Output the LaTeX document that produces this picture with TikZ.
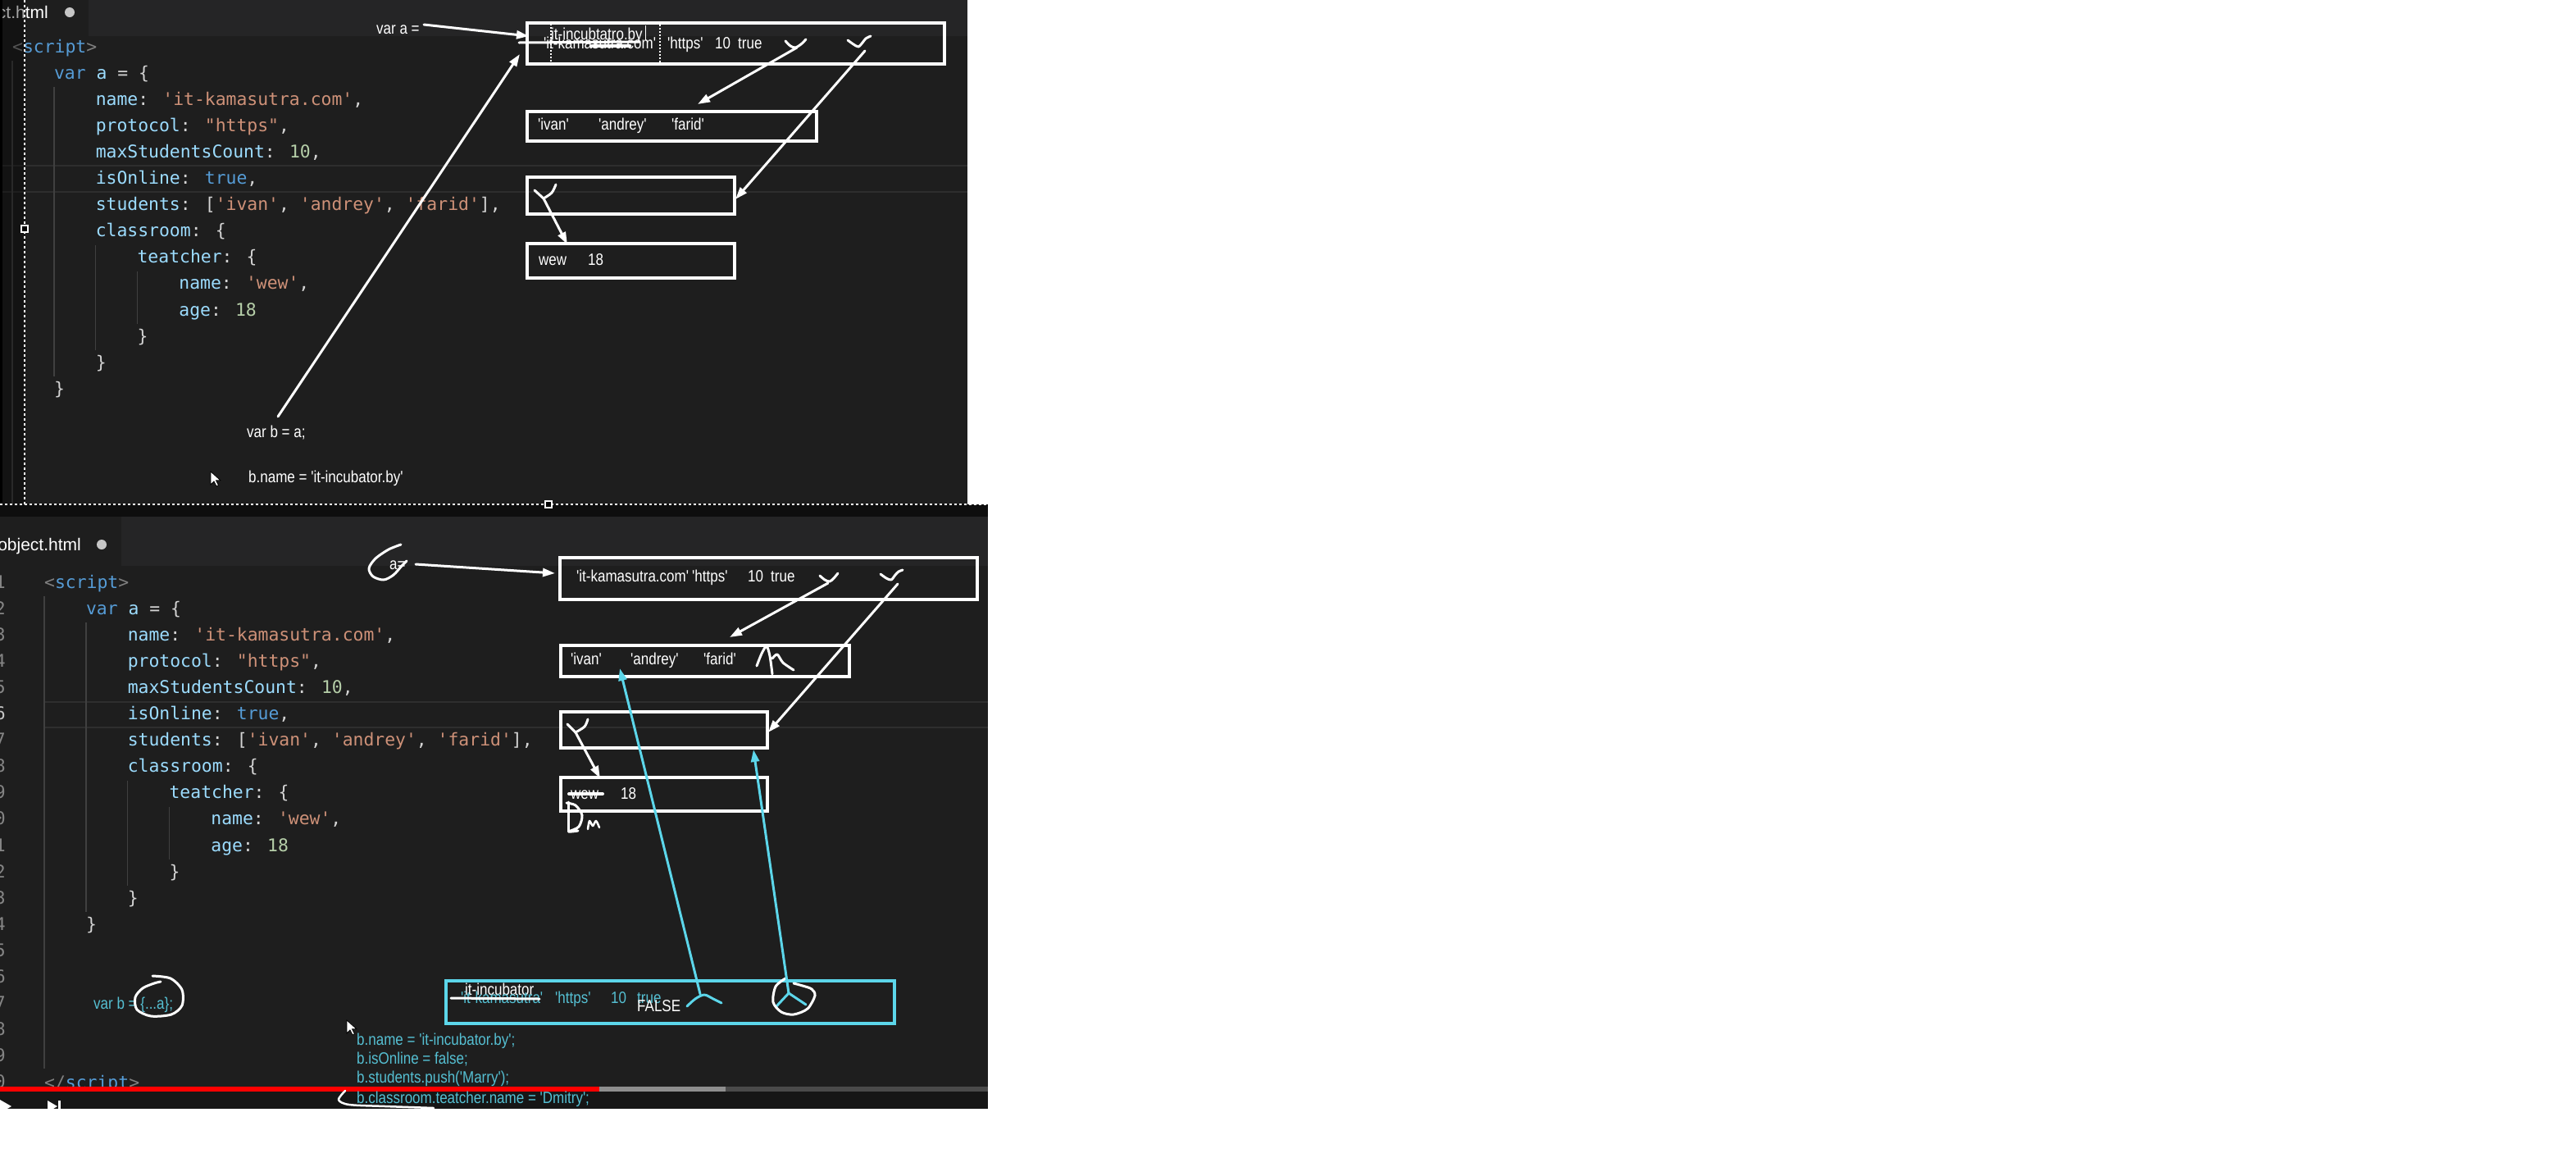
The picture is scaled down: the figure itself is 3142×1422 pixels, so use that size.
\documentclass[tikz,border=0pt]{standalone}
\usepackage{fontspec}
\usetikzlibrary{arrows.meta}

\newfontfamily\codefont{DejaVu Sans Mono}
\newfontfamily\handfont{Liberation Sans}[FakeStretch=0.85]
\newfontfamily\uifont{Liberation Sans}

\definecolor{edbg}{HTML}{1E1E1E}
\definecolor{tabbar}{HTML}{252526}
\definecolor{darkband}{HTML}{0E0E0E}
\definecolor{ctrlbg}{HTML}{161616}
\definecolor{kwblue}{HTML}{569CD6}
\definecolor{propblue}{HTML}{9CDCFE}
\definecolor{strorange}{HTML}{CE9178}
\definecolor{numgreen}{HTML}{B5CEA8}
\definecolor{punct}{HTML}{D4D4D4}
\definecolor{taggray}{HTML}{808080}
\definecolor{guidegray}{HTML}{404040}
\definecolor{curline}{HTML}{2E2E2E}
\definecolor{lnum}{HTML}{858585}
\definecolor{lnumact}{HTML}{C6C6C6}
\definecolor{cyanpen}{HTML}{5CD6EA}
\definecolor{cyantext}{HTML}{55BFD2}
\definecolor{ytred}{HTML}{FF0000}
\definecolor{buffered}{HTML}{8E8E8E}
\definecolor{track}{HTML}{4A4A4A}

\newcommand\ckw[1]{\textcolor{kwblue}{#1}}
\newcommand\cpr[1]{\textcolor{propblue}{#1}}
\newcommand\cst[1]{\textcolor{strorange}{#1}}
\newcommand\cnm[1]{\textcolor{numgreen}{#1}}
\newcommand\ctg[1]{\textcolor{taggray}{#1}}

% the object literal as the editor shows it, origin at the first line
\newcommand\codelines{%
  \foreach \lvl/\txt [count=\k] in {%
      0/{\ctg{<}\ckw{script}\ctg{>}},
      1/{\ckw{var} \cpr{a} = \{},
      2/{\cpr{name}: \cst{'it-kamasutra.com'},},
      2/{\cpr{protocol}: \cst{"https"},},
      2/{\cpr{maxStudentsCount}: \cnm{10},},
      2/{\cpr{isOnline}: \ckw{true},},
      2/{\cpr{students}: [\cst{'ivan'}, \cst{'andrey'}, \cst{'farid'}],},
      2/{\cpr{classroom}: \{},
      3/{\cpr{teatcher}: \{},
      4/{\cpr{name}: \cst{'wew'},},
      4/{\cpr{age}: \cnm{18}},
      3/{\}},
      2/{\}},
      1/{\}}%
    }{\node[code] (line\k) at ({50.8*\lvl},{32.1*(\k-1)+6}) {\txt};}%
  % indent guides
  \draw[guide] (50.8,48) -- (50.8,401);
  \draw[guide] (101.6,241) -- (101.6,369);
  \draw[guide] (152.4,273) -- (152.4,337);
}

% mouse pointer
\newcommand\mousept[1]{%
  \filldraw[fill=white, draw=black, line width=0.8pt]
    #1 -- ++(0,16) -- ++(4,-4) -- ++(3,6) -- ++(2.5,-1.2) -- ++(-3,-6) -- ++(5.5,0) -- cycle;}

\begin{document}
\begin{tikzpicture}[x=1pt, y=-1pt,
  code/.style={text=punct, font=\codefont\fontsize{21.4}{25}\selectfont, inner sep=0pt, anchor=base west},
  hand/.style={text=white, font=\handfont\fontsize{20}{24}\selectfont, inner sep=0pt, anchor=base west},
  tabtext/.style={text=white, font=\uifont\fontsize{21}{25}\selectfont, inner sep=0pt, anchor=base east},
  guide/.style={guidegray, line width=1.5pt},
  pen/.style={white, line width=3pt, line cap=round, line join=round},
  cyanline/.style={cyanpen, line width=3pt, line cap=round, line join=round},
  membox/.style={draw=white, line width=3.5pt, inner sep=0pt, anchor=north west},
  selection/.style={white, line width=1.5pt, dash pattern=on 3pt off 3pt},
  >={Triangle[length=15pt,width=10pt]}]

  \useasboundingbox (0,0) rectangle (3142,1422);
  \fill[white] (0,0) rectangle (3142,1422);

  % ===== upper screenshot =====
  \fill[edbg] (0,0) rectangle (1180,615);
  \fill[tabbar] (108,0) rectangle (1180,44);
  \node[tabtext] (tabA) at (59,22) {object.html};
  \fill[lnumact] (85,15) circle[radius=6pt];

  % current line and code
  \draw[curline, line width=2pt] (0,202) -- (1180,202) (0,234) -- (1180,234);
  \draw[guide] (15,74) -- (15,615);
  \begin{scope}[shift={(15,58)}, name prefix=top-]
    \codelines
  \end{scope}

  % var a points at the object
  \node[hand] (varA) at (459,41) {var a =};
  \coordinate (varAtail) at (517,30);
  \node[membox, minimum width=509pt, minimum height=50pt] (objA) at (641,26) {};
  \coordinate (objAhead) at (645,44);
  \draw[pen,->] (varAtail) -- (objAhead);

  % new name typed over the old one
  \draw[white, line width=1.2pt, dash pattern=on 2pt off 2pt] (672,29) rectangle (805,78);
  \node[hand] (nameNewA) at (672,48) {it-incubtatro.by};
  \draw[white, line width=1pt] (787,31) -- (787,49);
  \node[hand] (nameOldA) at (663,59) {'it-kamasutra.com'};
  \draw[pen] (633,52) -- (780,51);
  \draw[pen, line width=4.5pt] (722,56) -- (768,56);
  \node[hand] (httpsA) at (814,59) {'https'};
  \node[hand] (tenA) at (872,59) {10};
  \node[hand] (trueA) at (900,59) {true};

  % references to the nested objects
  \draw[pen] plot[smooth] coordinates {(958,50) (964,56) (970,58) (977,54) (983,48)};
  \draw[pen] plot[smooth] coordinates {(1034,49) (1041,54) (1047,57) (1052,52) (1056,47) (1062,44)};
  \coordinate (refStuA) at (972,58);
  \coordinate (refClsA) at (1055,62);

  % students array
  \node[membox, minimum width=353pt, minimum height=36pt] (stuA) at (641,134) {};
  \node[hand] (ivanA) at (656,158) {'ivan'};
  \node[hand] (andreyA) at (730,158) {'andrey'};
  \node[hand] (faridA) at (819,158) {'farid'};
  \coordinate (stuAhead) at (851,127);
  \draw[pen,->] (refStuA) -- (stuAhead);

  % classroom and teacher
  \node[membox, minimum width=253pt, minimum height=45pt] (clsA) at (641,214) {};
  \coordinate (clsAhead) at (897,243);
  \draw[pen,->] (refClsA) -- (clsAhead);
  \node[membox, minimum width=253pt, minimum height=42pt] (tchA) at (641,295) {};
  \node[hand] (wewA) at (657,323) {wew};
  \node[hand] (ageA) at (717,323) {18};
  \coordinate (refTchA) at (663,242);
  \coordinate (tchAhead) at (692,298);
  \draw[pen] (652,232) -- (refTchA);
  \draw[pen] plot[smooth] coordinates {(678,225) (673,235) (663,242)};
  \draw[pen,->] (refTchA) -- (tchAhead);

  % var b = a points at the same object
  \node[hand] (varB) at (301,533) {var b = a;};
  \coordinate (varBtail) at (339,508);
  \coordinate (objAfoot) at (634,66);
  \draw[pen,->] (varBtail) -- (objAfoot);
  \mousept{(257,575)}
  \node[hand] (renameA) at (303,588) {b.name = 'it-incubator.by'};

  % area left of the selection
  \fill[black, opacity=0.35] (0,0) rectangle (30,615);
  \fill[black] (0,0) rectangle (3,615);
  \draw[selection] (30,0) -- (30,615);
  \filldraw[draw=white, fill=black, line width=1.2pt] (26,275) rectangle (34,283);

  % ===== lower screenshot =====
  \fill[darkband] (0,615) rectangle (1205,630);
  \fill[edbg] (0,630) rectangle (1205,1352);
  \fill[tabbar] (148,630) rectangle (1205,690);
  \node[tabtext] (tabB) at (99,671) {object.html};
  \fill[lnumact] (124,664) circle[radius=6pt];

  % line numbers, current line and code
  \foreach \n in {1,...,5,7,8,...,20}
    \node[code, text=lnum, anchor=base east] (num\n) at (7,{711+32.1*(\n-1)+6}) {\n};
  \node[code, text=lnumact, anchor=base east] (num6) at (7,{711+32.1*5+6}) {6};
  \draw[curline, line width=2pt] (54,856) -- (1205,856) (54,887) -- (1205,887);
  \draw[guide] (54,727) -- (54,1303);
  \begin{scope}[shift={(54,711)}, name prefix=bot-]
    \codelines
  \end{scope}
  \node[code] (endScript) at (54,1327) {\ctg{</}\ckw{script}\ctg{>}};

  % player bar
  \fill[ctrlbg] (0,1331) rectangle (1205,1352);
  \fill[ytred] (0,1325) rectangle (731,1331);
  \fill[buffered] (731,1325) rectangle (885,1331);
  \fill[track] (885,1325) rectangle (1205,1331);
  \begin{scope}
    \clip (0,1331) rectangle (1205,1352);
    \fill[white] (0,1341) -- (14,1349) -- (0,1357) -- cycle;
    \fill[white] (58,1342) -- (70,1349) -- (58,1356) -- cycle;
    \fill[white] (71,1342) rectangle (74,1356);
  \end{scope}

  % a = points at the object
  \node[hand] (aEq) at (475,694) {a=};
  \draw[pen] plot[smooth] coordinates {(489,664) (474,670) (458,681) (450,693) (455,703) (468,707) (480,701) (490,690) (496,684)};
  \coordinate (aEqtail) at (507,688);
  \node[membox, minimum width=509pt, minimum height=51pt] (objB) at (681,678) {};
  \coordinate (objBhead) at (677,699);
  \draw[pen,->] (aEqtail) -- (objBhead);
  \node[hand] (nameB) at (703,709) {'it-kamasutra.com'};
  \node[hand] (httpsB) at (844,709) {'https'};
  \node[hand] (tenB) at (912,709) {10};
  \node[hand] (trueB) at (940,709) {true};

  % references to the nested objects
  \draw[pen] plot[smooth] coordinates {(1000,702) (1006,707) (1012,709) (1017,705) (1022,699)};
  \draw[pen] plot[smooth] coordinates {(1074,700) (1081,705) (1087,707) (1092,701) (1096,697) (1101,695)};
  \coordinate (refStuB) at (1010,711);
  \coordinate (refClsB) at (1095,712);

  % students array, with the new one
  \node[membox, minimum width=352pt, minimum height=38pt] (stuB) at (682,785) {};
  \node[hand] (ivanB) at (696,810) {'ivan'};
  \node[hand] (andreyB) at (769,810) {'andrey'};
  \node[hand] (faridB) at (858,810) {'farid'};
  \draw[pen] plot[smooth] coordinates {(923,812) (929,797) (935,788) (939,800) (942,822)};
  \draw[pen] plot[smooth] coordinates {(942,803) (948,798) (955,808) (968,817)};
  \coordinate (stuBhead) at (890,777);
  \draw[pen,->] (refStuB) -- (stuBhead);

  % classroom and teacher
  \node[membox, minimum width=252pt, minimum height=44pt] (clsB) at (682,866) {};
  \coordinate (clsBhead) at (937,893);
  \draw[pen,->] (refClsB) -- (clsBhead);
  \node[membox, minimum width=252pt, minimum height=41pt] (tchB) at (682,946) {};
  \node[hand] (wewB) at (696,974) {wew};
  \draw[pen, line width=4pt] (694,968) -- (735,968);
  \node[hand] (ageB) at (757,974) {18};
  \coordinate (refTchB) at (702,893);
  \coordinate (tchBhead) at (732,949);
  \draw[pen] (692,883) -- (refTchB);
  \draw[pen] plot[smooth] coordinates {(717,877) (713,886) (702,893)};
  \draw[pen,->] (refTchB) -- (tchBhead);
  % Dm
  \draw[pen] (693,978) -- (693,1014);
  \draw[pen] plot[smooth] coordinates {(691,979) (702,982) (710,994) (706,1008) (694,1014) (705,1013)};
  \draw[pen, line width=2.5pt] plot[smooth] coordinates {(717,1011) (719,1001) (723,1007) (727,1001) (731,1009)};

  % var b = {...a} makes a new object
  \node[hand, text=cyantext] (varBc) at (114,1230) {var b = \{...a\};};
  \draw[pen] plot[smooth] coordinates {(186,1190) (208,1193) (222,1207) (222,1226) (209,1237) (184,1239) (167,1231) (165,1216) (174,1205) (188,1199) (196,1197)};
  \node[membox, draw=cyanpen, minimum width=547pt, minimum height=52pt] (objC) at (542,1194) {};
  \node[hand] (nameNewC) at (567,1213) {it-incubator};
  \node[hand, text=cyantext] (nameOldC) at (562,1223) {'it-kamasutra'};
  \draw[pen] (550,1217) -- (658,1218);
  \node[hand, text=cyantext] (httpsC) at (677,1223) {'https'};
  \node[hand, text=cyantext] (tenC) at (745,1223) {10};
  \node[hand, text=cyantext] (trueC) at (777,1223) {true};
  \node[hand] (falseC) at (777,1233) {FALSE};

  % the copy shares the nested objects
  \draw[cyanline] plot[smooth] coordinates {(838,1227) (848,1218) (859,1213) (870,1218) (880,1223)};
  \coordinate (refStuC) at (854,1212);
  \coordinate (refClsC) at (962,1211);
  \draw[cyanline] (refClsC) -- (947,1227);
  \draw[cyanline] (refClsC) -- (983,1225);
  \draw[pen] plot[smooth] coordinates {(958,1193) (946,1203) (943,1222) (953,1234) (968,1237) (985,1230) (994,1214) (990,1206) (979,1202) (968,1199)};
  \coordinate (stuBfoot) at (756,815);
  \coordinate (clsBfoot) at (919,914);
  \draw[cyanline,->] (refStuC) -- (stuBfoot);
  \draw[cyanline,->] (refClsC) -- (clsBfoot);

  % changes made through b
  \mousept{(423,1244)}
  \node[hand, text=cyantext] (stmtName) at (435,1274) {b.name = 'it-incubator.by';};
  \node[hand, text=cyantext] (stmtOnline) at (435,1297) {b.isOnline = false;};
  \node[hand, text=cyantext] (stmtPush) at (435,1320) {b.students.push('Marry');};
  \node[hand, text=cyantext] (stmtTeacher) at (435,1345) {b.classroom.teatcher.name = 'Dmitry';};
  \draw[pen, line width=2.5pt] plot[smooth] coordinates {(421,1330) (413,1341) (426,1347) (470,1349) (529,1351)};

  % selection edge between the two shots
  \draw[selection] (0,615) -- (1205,615);
  \filldraw[draw=white, fill=black, line width=1.2pt] (665,611) rectangle (673,619);
\end{tikzpicture}
\end{document}
